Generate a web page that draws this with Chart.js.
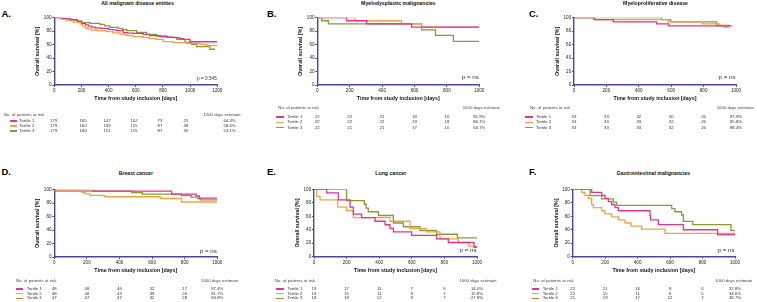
<!DOCTYPE html>
<html><head><meta charset="utf-8">
<script src="https://cdn.jsdelivr.net/npm/chart.js@4/dist/chart.umd.min.js"></script>
<style>
body{margin:0;width:757px;height:302px;background:#fff;position:relative;overflow:hidden;font-family:"Liberation Sans",Arial,sans-serif;color:#222;}
.t{position:absolute;white-space:nowrap;line-height:1;}
canvas{position:absolute;}
.sw{position:absolute;height:1.3px;}
</style></head><body>
<script>
// ---------- DATA ----------
const tertiles = ['Tertile 1','Tertile 2','Tertile 3'];
// Panel A: All malignant disease entities (days, survival %)
const A_t1_days = [0,60,120,170,201,230,250,275,300,340,398,430,459,508,540,581,655,700,778,830,876,920,950,999,1200];
const A_t1_surv = [100,98.9,97.2,95,91.6,89.4,87.6,86,85,84,82.7,81.8,80.7,77.7,77,76.7,75.2,73.5,71.8,71,70.3,69,67.8,64.3,64.3];
const A_t2_days = [0,50,91,140,189,210,226,250,275,320,385,430,483,530,581,655,700,753,802,876,974,1072,1121,1200];
const A_t2_surv = [100,98.3,96,93.3,90.6,87.5,84.7,83,81.7,80.5,79.2,77.5,75.2,73.5,71.8,70.3,69,67.8,64.4,62.9,61.9,60.4,58.6,58.6];
const A_t3_days = [0,60,120,170,201,263,336,370,410,471,500,533,606,680,753,827,901,962,1011,1048,1121,1146,1183];
const A_t3_surv = [100,98.3,96.6,94.4,92.6,91.6,90.1,88,85.6,84.2,82.5,80.7,78.2,75.2,72.8,70.8,67.8,63.4,60.4,56.9,56.9,53.1,53.1];
const A_risk1 = [179,165,147,102,73,25];
const A_risk2 = [179,160,139,115,87,48];
const A_risk3 = [179,160,151,115,87,30];
const A_est = ['64.3%','58.6%','53.1%'];

// Panel B: Myelodysplastic malignancies
const B_t1_days = [0,181,305,582,1000];
const B_t1_surv = [100,95.5,90.9,85.9,85.9];
const B_t2_days = [0,232,520,644,1000];
const B_t2_surv = [100,95.5,90.9,86.1,86.1];
const B_t3_days = [0,27,68,644,730,840,1000];
const B_t3_surv = [100,95.5,90.9,81.8,73.6,64.7,64.7];
const B_risk1 = [22,22,21,18,16];
const B_risk2 = [22,22,22,19,18];
const B_risk3 = [22,21,21,17,10];
const B_est = ['85.9%','86.1%','64.7%'];

// Panel C: Myeloproliferative disease
const C_t1_days = [0,123,243,510,585,975];
const C_t1_surv = [100,97,93.9,90.9,87.9,87.9];
const C_t2_days = [0,130,580,790,900,930,960];
const C_t2_surv = [100,97,93.9,90.9,88,85.8,85.8];
const C_t3_days = [0,540,597,880,960];
const C_t3_surv = [100,97,93.9,88.4,88.4];
const C_risk1 = [33,33,32,30,26];
const C_risk2 = [33,33,33,32,26];
const C_risk3 = [33,33,33,32,26];
const C_est = ['87.9%','85.8%','88.4%'];

// Panel D: Breast cancer
const D_t1_days = [0,240,720,870,890,1000];
const D_t1_surv = [100,97.9,93.4,90.9,87.4,87.4];
const D_t2_days = [0,15,170,190,220,310,650,780,1000];
const D_t2_surv = [100,97.9,95.8,93.7,91.6,89.5,86.9,81.7,81.7];
const D_t3_days = [0,5,475,540,780,840,880,895,1000];
const D_t3_surv = [100,97.9,95.7,93.5,91.2,88.9,86.6,84.8,84.8];
const D_risk1 = [48,48,46,32,17];
const D_risk2 = [48,46,43,39,26];
const D_risk3 = [47,47,47,32,28];
const D_est = ['87.4%','81.7%','84.8%'];

// Panel E: Lung cancer
const E_t1_days = [0,78,149,221,241,292,374,436,466,487,599,752,824,982,1000];
const E_t1_surv = [100,94.7,84.2,73.7,63.2,57.9,52.6,47.4,42.1,36.8,31.6,26.3,21.1,14.0,14.0];
const E_t2_days = [0,16,37,145,200,241,466,589,691,773,885,950,1000];
const E_t2_surv = [100,89.5,84.2,73.7,68.4,57.9,52.6,42.1,36.8,26.3,21.1,15.8,15.8];
const E_t3_days = [0,200,309,320,333,395,487,548,650,752,879,1000];
const E_t3_surv = [100,83.3,77.8,72.2,66.7,61.1,50,44.4,38.9,33.3,27.8,27.8];
const E_risk1 = [19,17,11,7,6];
const E_risk2 = [19,15,11,8,7];
const E_risk3 = [18,18,12,9,7];
const E_est = ['14.0%','15.8%','27.8%'];

// Panel F: Gastrointestinal malignancies
const F_t1_days = [0,117,179,199,220,240,261,281,476,480,528,682,893,1000];
const F_t1_surv = [100,95.5,90.9,86.4,81.8,77.3,72.7,68.2,61.4,54.5,47.7,40.0,32.8,32.8];
const F_t2_days = [0,55,76,97,117,127,179,199,240,281,322,359,425,569,1000];
const F_t2_surv = [100,95.5,90.9,86.4,77.3,72.7,68.2,63.6,59.1,54.5,50,45.5,40.9,34.6,34.6];
const F_t3_days = [0,107,179,250,271,610,630,671,682,740,975,1000];
const F_t3_surv = [100,90.5,85.7,81,76.2,71.4,66.7,61.9,52.4,47.6,38.7,38.7];
const F_risk1 = [22,21,16,9,6];
const F_risk2 = [22,15,11,6,5];
const F_risk3 = [21,19,17,12,7];
const F_est = ['32.8%','34.6%','38.7%'];

// ---------- STYLE / LAYOUT ----------
const COLORS = ['#E3358D','#F4A243','#8B9A33'];
const AXIS = '#47479b';
const FONT = '"Liberation Sans", Arial, sans-serif';

const panels = [
 {letter:'A.', title:'All malignant disease entities', L:54.3,R:217.3,T:17.7,B:85, xmax:1200,
  days:[A_t1_days,A_t2_days,A_t3_days], surv:[A_t1_surv,A_t2_surv,A_t3_surv], risk:[A_risk1,A_risk2,A_risk3], est:A_est, estHead:'1200 days estimate',
  letterX:1.5, letterY:13.7, titleX:137.5, titleY:4, p:'p = 0.545', pSize:4.7, pY:79,
  headY:115, rows:[121,126,131], headL:4, estR:240.7, swL:10, swR:17, labL:19.3,
  cols:[53.7,83,107,134,160,186], estX:229.6},
 {letter:'B.', title:'Myelodysplastic malignancies', L:317.3,R:479.3,T:17.7,B:85, xmax:1000,
  days:[B_t1_days,B_t2_days,B_t3_days], surv:[B_t1_surv,B_t2_surv,B_t3_surv], risk:[B_risk1,B_risk2,B_risk3], est:B_est, estHead:'1000 days estimate',
  letterX:267, letterY:14.2, titleX:398.3, titleY:4, p:'p = ns', pSize:6.2, pY:77,
  headY:108.3, rows:[117,122.3,127.7], headL:278.3, estR:500, swL:276, swR:284, labL:287.3},
 {letter:'C.', title:'Myeloproliferative disease', L:574,R:736,T:17.7,B:85, xmax:1000,
  days:[C_t1_days,C_t2_days,C_t3_days], surv:[C_t1_surv,C_t2_surv,C_t3_surv], risk:[C_risk1,C_risk2,C_risk3], est:C_est, estHead:'1000 days estimate',
  letterX:529, letterY:14.2, titleX:655.5, titleY:4, p:'p = ns', pSize:6.2, pY:77,
  headY:108.3, rows:[117,122.3,127.7], headL:530, estL:716.7, swL:525, swR:532.7, labL:536},
 {letter:'D.', title:'Breast cancer', L:54.3,R:217.3,T:189.7,B:257, xmax:1000,
  days:[D_t1_days,D_t2_days,D_t3_days], surv:[D_t1_surv,D_t2_surv,D_t3_surv], risk:[D_risk1,D_risk2,D_risk3], est:D_est, estHead:'1000 days estimate',
  letterX:1.5, letterY:172.2, titleX:135.8, titleY:174, p:'p = ns', pSize:6.2, pY:250.5,
  headY:280.7, rows:[289,293.7,298.3], headL:16, estR:238.3, swL:16, swR:23.3, labL:26.7},
 {letter:'E.', title:'Lung cancer', L:314,R:477,T:189.3,B:256.7, xmax:1000,
  days:[E_t1_days,E_t2_days,E_t3_days], surv:[E_t1_surv,E_t2_surv,E_t3_surv], risk:[E_risk1,E_risk2,E_risk3], est:E_est, estHead:'1000 days estimate',
  letterX:267, letterY:172.2, titleX:390.8, titleY:174, p:'p = ns', pSize:6.2, pY:250,
  headY:280.7, rows:[289,293.7,298.3], headL:275, estR:496.7, swL:276, swR:284.3, labL:287.3},
 {letter:'F.', title:'Gastrointestinal malignancies', L:572.7,R:735,T:189.3,B:256.7, xmax:1000,
  days:[F_t1_days,F_t2_days,F_t3_days], surv:[F_t1_surv,F_t2_surv,F_t3_surv], risk:[F_risk1,F_risk2,F_risk3], est:F_est, estHead:'1000 days estimate',
  letterX:529, letterY:172.2, titleX:653.3, titleY:174, p:'p = ns', pSize:6.2, pY:250,
  headY:280.7, rows:[289,293.7,298.3], headL:533.3, estL:715, swL:531.7, swR:539.3, labL:542.7}
];

function txt(s, x, y, o) {
  o = o || {};
  const d = document.createElement('div');
  d.className = 't';
  d.textContent = s;
  d.style.left = x + 'px';
  d.style.top = y + 'px';
  d.style.fontSize = (o.size || 4.3) + 'px';
  if (o.bold) d.style.fontWeight = 'bold';
  if (o.color) d.style.color = o.color;
  const ax = o.anchor === 'left' ? '0' : (o.anchor === 'right' ? '-100%' : '-50%');
  d.style.transform = 'translate(' + ax + ',-50%)';
  document.body.appendChild(d);
}

panels.forEach(p => {
  const yW0 = 40, padT0 = 6, xH = 21, padR = 12;
  const cl = Math.floor(p.L - yW0), ct = Math.floor(p.T - padT0);
  const yW = p.L - cl, padT = p.T - ct;
  const cw = Math.ceil(p.R - cl + padR), ch = Math.ceil(p.B - ct + xH);
  const xHreal = ct + ch - p.B;
  const cv = document.createElement('canvas');
  cv.width = cw; cv.height = ch;
  cv.style.left = cl + 'px'; cv.style.top = ct + 'px';
  cv.style.width = cw + 'px'; cv.style.height = ch + 'px';
  document.body.appendChild(cv);
  const datasets = p.days.map((dd, i) => ({
    label: tertiles[i],
    data: dd.map((d, k) => ({x: d, y: p.surv[i][k]})),
    borderColor: COLORS[i], borderWidth: 1.3, pointRadius: 0, stepped: true, fill: false
  }));
  const tickFont = {family: FONT, size: 4.6};
  const titleFont = {family: FONT, size: 5.3, weight: 'bold'};
  const lh = 5.3 * 1.2;
  new Chart(cv, {
    type: 'line',
    data: {datasets},
    options: {
      responsive: false, animation: false, devicePixelRatio: 1,
      layout: {padding: {left: 0, top: padT, right: cw - (p.R - cl), bottom: 0}},
      plugins: {legend: {display: false}, tooltip: {enabled: false}},
      scales: {
        x: {type: 'linear', min: 0, max: p.xmax,
            ticks: {stepSize: 200, font: tickFont, color: '#222', padding: 0.8, maxRotation: 0, autoSkip: false, callback: v => String(v)},
            grid: {drawOnChartArea: false, drawTicks: true, tickLength: 2, tickColor: AXIS, tickWidth: 1},
            border: {display: true, color: AXIS, width: 1.4},
            title: {display: true, text: 'Time from study inclusion [days]', font: titleFont, color: '#111', padding: {top: 0, bottom: xHreal - 14 - lh / 2}},
            afterFit: s => { s.height = xHreal; }},
        y: {min: 0, max: 100,
            ticks: {stepSize: 20, font: tickFont, color: '#222', padding: 0.8, callback: v => String(v)},
            grid: {drawOnChartArea: false, drawTicks: true, tickLength: 2, tickColor: AXIS, tickWidth: 1},
            border: {display: true, color: AXIS, width: 1.4},
            title: {display: true, text: 'Overall survival [%]', font: titleFont, color: '#111', padding: {top: yW - 16.3 - lh / 2, bottom: 0}},
            afterFit: s => { s.width = yW; }}
      }
    }
  });
  // letter, title, p
  txt(p.letter, p.letterX, p.letterY, {size: 9.5, bold: true, anchor: 'left', color: '#000'});
  txt(p.title, p.titleX, p.titleY, {size: 5.2, bold: true, color: '#111'});
  txt(p.p, p.R - 0.5, p.pY, {size: p.pSize, anchor: 'right', color: '#333'});
  // risk table
  txt('No. of patients at risk', p.headL, p.headY, {anchor: 'left', color: '#444'});
  if (p.estR) txt(p.estHead, p.estR, p.headY, {anchor: 'right', color: '#444'});
  else txt(p.estHead, p.estL, p.headY, {anchor: 'left', color: '#444'});
  const cols = p.cols || [0,200,400,600,800].map(v => p.L + (p.R - p.L) * v / p.xmax);
  const estX = p.estX || p.R;
  p.rows.forEach((ry, i) => {
    const sw = document.createElement('div');
    sw.className = 'sw';
    sw.style.left = p.swL + 'px'; sw.style.width = (p.swR - p.swL) + 'px';
    sw.style.top = (ry - 0.6) + 'px'; sw.style.background = COLORS[i];
    document.body.appendChild(sw);
    txt(tertiles[i], p.labL, ry, {anchor: 'left', color: '#333'});
    p.risk[i].forEach((n, k) => txt(String(n), cols[k], ry, {color: '#333'}));
    txt(p.est[i], estX, ry, {color: '#333'});
  });
});
</script>
</body></html>
